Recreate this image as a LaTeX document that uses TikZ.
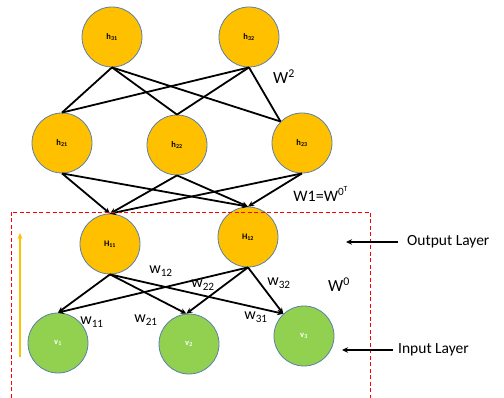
\documentclass[tikz,border=0pt]{standalone}
\usepackage{fontspec}
\setmainfont{Carlito}
\usetikzlibrary{arrows.meta}
\definecolor{gold}{HTML}{FFC000}
\definecolor{leaf}{HTML}{92D050}
\definecolor{rim}{HTML}{5B7FA6}
\begin{document}
\begin{tikzpicture}[x=1pt,y=-1pt,
  neuron/.style={circle,draw=rim,line width=0.8pt,minimum size=60pt,inner sep=0pt,font=\fontsize{8.5}{9}\selectfont\bfseries},
  hid/.style={neuron,fill=gold,text=black},
  vis/.style={neuron,fill=leaf,text=white},
  edge/.style={line width=1.8pt,black},
  arr/.style={edge,-{Stealth[length=6pt,width=5.5pt]}},
  lbl/.style={font=\fontsize{16}{18}\selectfont,inner sep=0pt},
  side/.style={font=\fontsize{15.5}{18}\selectfont,inner sep=0pt,anchor=west}]
\useasboundingbox (0,0) rectangle (504,398);
% nodes
\node[hid] (h31) at (112,37) {h\textsubscript{31}};
\node[hid] (h32) at (249,37) {h\textsubscript{32}};
\node[hid] (h21) at (62,143) {h\textsubscript{21}};
\node[hid] (h22) at (177,145) {h\textsubscript{22}};
\node[hid] (h23) at (302,143) {h\textsubscript{23}};
\node[hid] (H11) at (110,244) {H\textsubscript{11}};
\node[hid] (H12) at (248,237) {H\textsubscript{12}};
\node[vis] (v1) at (58,343) {v\textsubscript{1}};
\node[vis] (v2) at (189,344) {v\textsubscript{2}};
\node[vis] (v3) at (304,336) {v\textsubscript{3}};
% top layer
\foreach \s in {h31,h32}{
  \draw[edge] (\s.south) -- (h21.north);
  \draw[edge] (\s.south) -- (h22.north);
  \draw[edge] (\s.south) -- (h23.135);
}
% middle to H
\foreach \s in {h21,h22,h23}{
  \draw[arr] (\s.south) -- (H11.north);
  \draw[arr] (\s.south) -- (H12.north);
}
% H to v
\foreach \s in {H11,H12}{
  \draw[arr] (\s.south) -- (v1.north);
  \draw[arr] (\s.south) -- (v2.95);
  \draw[arr] (\s.south) -- (v3.133);
}
% dashed box
\coordinate (bl) at (11,398);
\coordinate (tl) at (11,212);
\coordinate (tr) at (370,212);
\coordinate (br) at (370,398);
\draw[red,line width=0.8pt,dash pattern=on 4pt off 2.5pt] (bl) -- (tl) -- (tr) -- (br);
% orange arrow
\coordinate (oa) at (20,357);
\coordinate (ob) at (20,233);
\draw[gold,line width=1.8pt,-{Stealth[length=6pt,width=5pt]}] (oa) -- (ob);
% side labels
\node[side] (out) at (407,242) {Output Layer};
\node[side] (inp) at (398,350) {Input Layer};
\coordinate (oe) at (346,242);
\coordinate (ie) at (342,350);
\coordinate (os) at (398,242);
\coordinate (is) at (393,350);
\draw[line width=1.6pt,-{Stealth[length=6pt,width=5.5pt]}] (os) -- (oe);
\draw[line width=1.6pt,-{Stealth[length=6pt,width=5.5pt]}] (is) -- (ie);
% weight labels
\node[lbl,font=\fontsize{17}{19}\selectfont] (W2) at (284,77) {W\textsuperscript{2}};
\node[lbl] (W1) at (321,194) {W1=W\textsuperscript{0\textsuperscript{T}}};
\node[lbl,font=\fontsize{17}{19}\selectfont] (W0) at (339,285) {W\textsuperscript{0}};
\node[lbl] (w12) at (161,271) {w\textsubscript{12}};
\node[lbl] (w22) at (203,285) {w\textsubscript{22}};
\node[lbl] (w11) at (92,322) {w\textsubscript{11}};
\node[lbl] (w21) at (146,320) {w\textsubscript{21}};
\node[lbl] (w32) at (279,283) {w\textsubscript{32}};
\node[lbl] (w31) at (256,317) {w\textsubscript{31}};
\end{tikzpicture}
\end{document}
